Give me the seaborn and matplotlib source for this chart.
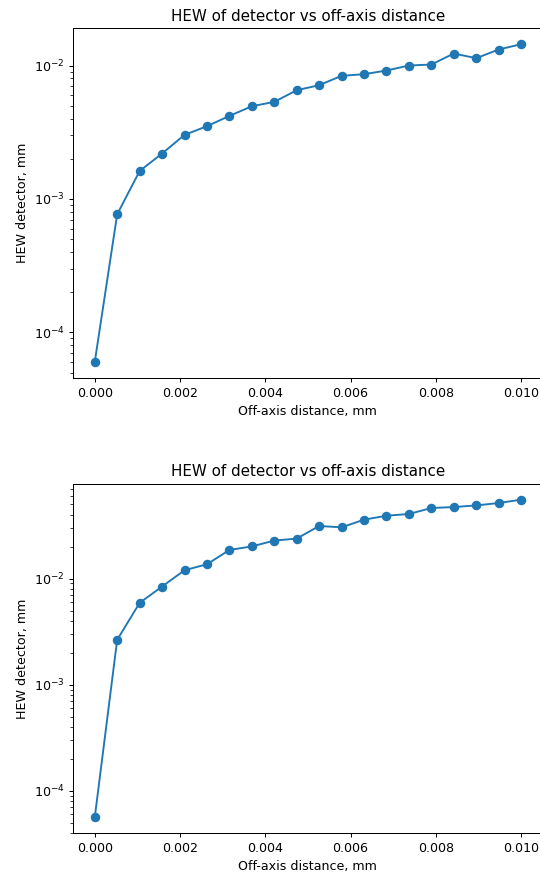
import numpy as np
import pandas as pd
import matplotlib
matplotlib.use("Agg")
import matplotlib.pyplot as plt
import seaborn as sns

# Off-axis positions (mm)
offset_mm = [0.0, 0.000526, 0.001053, 0.001579, 0.002105, 0.002632, 0.003158,
             0.003684, 0.004211, 0.004737, 0.005263, 0.005789, 0.006316,
             0.006842, 0.007368, 0.007895, 0.008421, 0.008947, 0.009474, 0.01]

# Half-energy width on the detector (mm), first configuration
hew_a = [6.0e-5, 7.67e-4, 1.62e-3, 2.19e-3, 3.02e-3, 3.51e-3, 4.19e-3,
         4.95e-3, 5.34e-3, 6.53e-3, 7.12e-3, 8.37e-3, 8.61e-3, 9.17e-3,
         1.00e-2, 1.017e-2, 1.23e-2, 1.135e-2, 1.318e-2, 1.445e-2]

# Half-energy width on the detector (mm), second configuration
hew_b = [5.61e-5, 2.65e-3, 5.90e-3, 8.41e-3, 1.198e-2, 1.364e-2, 1.86e-2,
         2.01e-2, 2.28e-2, 2.38e-2, 3.13e-2, 3.04e-2, 3.59e-2, 3.91e-2,
         4.06e-2, 4.62e-2, 4.72e-2, 4.89e-2, 5.15e-2, 5.54e-2]

title = "HEW of detector vs off-axis distance"
xlabel = "Off-axis distance, mm"
ylabel = "HEW detector, mm"

DPI = 91
fig, axes = plt.subplots(2, 1, figsize=(540 / DPI, 876 / DPI), dpi=DPI)
fig.subplots_adjust(left=0.136, right=1.0045, top=0.9677, bottom=0.0487, hspace=0.303)

color = "#1f77b4"
for ax, hew in zip(axes, [hew_a, hew_b]):
    df = pd.DataFrame({"x": offset_mm, "hew": hew})
    sns.lineplot(data=df, x="x", y="hew", ax=ax, color=color, marker="o",
                 markersize=6.5, markeredgecolor=color, markeredgewidth=1.0,
                 linewidth=1.5)
    ax.set_yscale("log")
    ax.set_title(title, fontsize=12)
    ax.set_xlabel(xlabel)
    ax.set_ylabel(ylabel)
    ax.set_xticks([0.0, 0.002, 0.004, 0.006, 0.008, 0.010])
    ax.set_xticklabels(["0.000", "0.002", "0.004", "0.006", "0.008", "0.010"])

fig.savefig("out.png", dpi=DPI)
